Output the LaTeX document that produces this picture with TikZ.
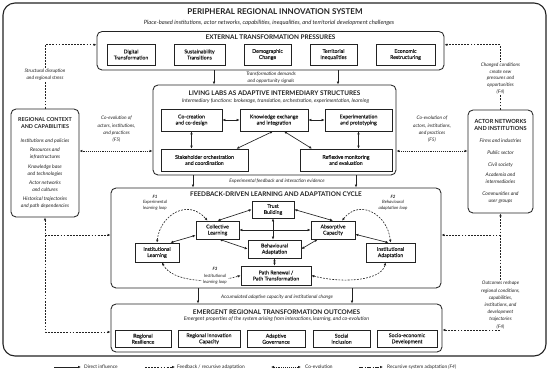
\documentclass[tikz,border=0pt]{standalone}
\usepackage{fontspec}
\setmainfont{Lato}
\usetikzlibrary{arrows.meta,calc}
\definecolor{ink}{HTML}{222222}
\newcommand{\fz}[2]{\fontsize{#1pt}{#2pt}\selectfont}
\newcommand{\semib}{\addfontfeature{FakeBold=0.25}}
\tikzset{
  tip/.tip={Latex[length=3pt,width=2.6pt]},
  frame/.style={draw=ink, line width=1.1pt, rounded corners=12pt},
  panel/.style={draw=ink, line width=0.85pt, rounded corners=5pt},
  sub/.style={draw=ink, line width=0.65pt, align=center, inner sep=0pt, font=\fz{5.2}{6.1}\semib, text=ink},
  ttl/.style={font=\fz{6.4}{7}\bfseries, inner sep=0pt, text=ink},
  stl/.style={font=\fz{5.2}{6}\itshape, inner sep=0pt, text=ink},
  lbl/.style={font=\fz{4.8}{7.3}\itshape, align=center, inner sep=0.8pt, text=ink},
  side/.style={panel, align=center, inner sep=0pt, font=\fz{5}{7}\itshape, text=ink},
  conn/.style={draw=ink, line width=0.65pt, -tip},
  bi/.style={draw=ink, line width=0.65pt, tip-tip},
  fb/.style={draw=ink, line width=0.6pt, dash pattern=on 1.8pt off 1.3pt},
  co/.style={draw=ink, line width=0.6pt, dash pattern=on 0.8pt off 1.1pt},
  rsa/.style={draw=ink, line width=0.6pt, dash pattern=on 4pt off 1.5pt on 1pt off 1.5pt},
}
\begin{document}
\begin{tikzpicture}[x=1pt,y=-1pt]
\useasboundingbox[fill=white] (0,0) rectangle (550,373);
% outer frame
\node[frame, minimum width=543, minimum height=353] (sys) at (274.5,179.5) {};
\node[font=\fz{8}{9}\bfseries, inner sep=0pt, text=ink] (sysT) at (275,12) {PERIPHERAL REGIONAL INNOVATION SYSTEM};
\node[font=\fz{5.8}{7}\itshape, inner sep=0pt, text=ink] (sysS) at (269,22.5) {Place-based institutions, actor networks, capabilities, inequalities, and territorial development challenges};

% external pressures
\node[panel, minimum width=347, minimum height=38.5] (ext) at (270.5,50.75) {};
\node[ttl] (extT) at (270.5,37) {EXTERNAL TRANSFORMATION PRESSURES};
\node[sub, minimum width=48, minimum height=21] (dig) at (131,54.5) {Digital\\Transformation};
\node[sub, minimum width=51, minimum height=21] (sus) at (199.5,54.5) {Sustainability\\Transitions};
\node[sub, minimum width=47, minimum height=21] (dem) at (267.5,54.5) {Demographic\\Change};
\node[sub, minimum width=47, minimum height=21] (ter) at (333.5,54.5) {Territorial\\Inequalities};
\node[sub, minimum width=59, minimum height=21] (eco) at (405.5,54.5) {Economic\\Restructuring};

% living labs
\node[panel, minimum width=243, minimum height=90] (ll) at (274.5,130) {};
\node[ttl] (llT) at (274.5,93) {LIVING LABS AS ADAPTIVE INTERMEDIARY STRUCTURES};
\node[stl] (llS) at (275.5,101) {Intermediary functions: brokerage, translation, orchestration, experimentation, learning};
\node[sub, minimum width=61, minimum height=22] (cc) at (191.5,120) {Co-creation\\and co-design};
\node[sub, minimum width=68, minimum height=22] (ke) at (274,120) {Knowledge exchange\\and integration};
\node[sub, minimum width=67, minimum height=22] (ex) at (358.5,120) {Experimentation\\and prototyping};
\node[sub, minimum width=87, minimum height=22] (sh) at (204.5,160) {Stakeholder orchestration\\and coordination};
\node[sub, minimum width=92, minimum height=22] (rf) at (346,160) {Reflexive monitoring\\and evaluation};
\draw[bi] (cc) -- (ke);
\draw[bi] (ke) -- (ex);
\draw[bi] (cc.south) -- (cc.south |- sh.north);
\draw[bi] (ex.south) -- (ex.south |- rf.north);
\draw[bi] ([xshift=-1pt]ke.south) -- ([xshift=32pt]sh.north);
\draw[bi] ([xshift=10pt]ke.south) -- ([xshift=-34pt]rf.north);

% external -> living labs
\draw[conn] ([xshift=-56.5pt]ext.south) -- ([xshift=-56.5pt]ext.south |- ll.north);
\draw[conn] ([xshift=67.5pt]ext.south) -- ([xshift=67.5pt]ext.south |- ll.north);
\node[lbl] (tdl) at (271,78) {Transformation demands\\and opportunity signals};

% feedback cycle
\node[panel, minimum width=330, minimum height=100] (cyc) at (276,238) {};
\node[ttl] (cycT) at (276,194.5) {FEEDBACK-DRIVEN LEARNING AND ADAPTATION CYCLE};
\draw[conn] ([xshift=-81.5pt]ll.south) -- ([xshift=-81.5pt]ll.south |- cyc.north);
\draw[conn] ([xshift=81.5pt]ll.south) -- ([xshift=81.5pt]ll.south |- cyc.north);
\node[lbl] (efl) at (277,181.5) {Experimental feedback and interaction evidence};

\node[sub, minimum width=42, minimum height=17] (tr) at (273,209.5) {Trust\\Building};
\node[sub, minimum width=43, minimum height=18] (col) at (217.5,230) {Collective\\Learning};
\node[sub, minimum width=44, minimum height=18] (abs) at (333,230) {Absorptive\\Capacity};
\node[sub, minimum width=53, minimum height=18] (beh) at (274.5,249) {Behavioural\\Adaptation};
\node[sub, minimum width=44, minimum height=19] (il) at (157,252.5) {Institutional\\Learning};
\node[sub, minimum width=49, minimum height=19] (ia) at (390.5,252.5) {Institutional\\Adaptation};
\node[sub, minimum width=70, minimum height=19] (pr) at (276,275.5) {Path Renewal /\\Path Transformation};

\draw[bi] (col.north) -- (tr.west);
\draw[bi] (tr.east) -- (abs.north);
\draw[bi] (col.east) -- (abs.west);
\draw[bi] (tr.south) -- (tr.south |- beh.north);
\draw[bi] ([xshift=2pt]col.south) -- (beh.west);
\draw[bi] ([xshift=7pt]abs.south west) -- (beh.east);
\draw[bi] ([xshift=-9pt]il.north east) -- ([yshift=4pt]col.south west);
\draw[bi] ([yshift=5pt]abs.south east) -- ([xshift=-2pt]ia.north);
\draw[bi] (beh.south) -- (beh.south |- pr.north);

% loops
\draw[fb, tip-tip] (il.north) .. controls (160,215) and (188,198) .. ([xshift=-10pt]col.north);
\draw[fb, tip-tip] ([xshift=9pt]abs.north) .. controls (360,198) and (388,215) .. (ia.north);
\draw[fb, tip-tip] ([xshift=5pt]il.south) .. controls (172,282) and (212,284) .. (pr.west);
\draw[fb, tip-tip] (pr.east) .. controls (345,284) and (382,280) .. ([xshift=-5pt]ia.south);
\node[lbl, font=\fz{4.4}{5.6}\itshape] (f1) at (155,202.5) {\textbf{F1}\\Experimental\\learning loop};
\node[lbl, font=\fz{4.4}{5.6}\itshape] (f2) at (393,202.5) {\textbf{F2}\\Behavioural\\adaptation loop};
\node[lbl, font=\fz{4.4}{6.3}\itshape, fill=white] (f3) at (215,276) {\textbf{F3}\\Institutional\\learning loop};

% emergent outcomes
\node[panel, minimum width=331, minimum height=48] (em) at (276.5,328) {};
\node[ttl] (emT) at (276.5,312) {EMERGENT REGIONAL TRANSFORMATION OUTCOMES};
\node[stl] (emS) at (276.5,319.5) {Emergent properties of the system arising from interactions, learning, and co-evolution};
\node[sub, minimum width=56, minimum height=17.5] (o1) at (143,338.75) {Regional\\Resilience};
\node[sub, minimum width=62, minimum height=17.5] (o2) at (209,338.75) {Regional Innovation\\Capacity};
\node[sub, minimum width=58, minimum height=17.5] (o3) at (276,338.75) {Adaptive\\Governance};
\node[sub, minimum width=57, minimum height=17.5] (o4) at (341.5,338.75) {Social\\Inclusion};
\node[sub, minimum width=60, minimum height=17.5] (o5) at (407,338.75) {Socio-economic\\Development};
\draw[conn] ([xshift=-78pt]cyc.south) -- ([xshift=-78pt]cyc.south |- em.north);
\draw[conn] ([xshift=76pt]cyc.south) -- ([xshift=76pt]cyc.south |- em.north);
\node[lbl] (acl) at (277,297) {Accumulated adaptive capacity and institutional change};

% regional context (left)
\node[side, minimum width=68, minimum height=108] (ctx) at (45,163) {{\upshape\bfseries\fz{5.4}{6.5}REGIONAL CONTEXT}\\{\upshape\bfseries\fz{5.4}{6.5}AND CAPABILITIES}\\[7pt]Institutions and policies\\[2pt]Resources and\\infrastructures\\[2.5pt]Knowledge base\\and technologies\\[2pt]Actor networks\\and cultures\\[2pt]Historical trajectories\\and path dependencies};
% actor networks (right)
\node[side, minimum width=65, minimum height=103] (act) at (500.5,161.5) {{\upshape\bfseries\fz{5.6}{7.5}ACTOR NETWORKS}\\{\upshape\bfseries\fz{5.6}{7.5}AND INSTITUTIONS}\\[4.5pt]Firms and industries\\[5.5pt]Public sector\\[5pt]Civil society\\[3pt]Academia and\\intermediaries\\[5pt]Communities and\\user groups};

% left connectors
\draw[fb, -tip] (ctx.north) |- ([yshift=6pt]ext.west);
\node[lbl, fill=white] (sdl) at (45,74.5) {Structural disruption\\and regional stress};
\draw[co, tip-tip] ([yshift=-21pt]ll.west) -- ([yshift=-21pt]ll.west -| ctx.east);
\node[lbl] (cel) at (116.5,129.5) {Co-evolution of\\actors, institutions,\\and practices\\(F5)};
\draw[fb, tip-tip] (ctx.south) |- ([yshift=-4pt]em.west);
\draw[fb, -tip] (ctx.south |- cyc.west) ++(0,-3) -- ([yshift=3pt]cyc.west);

% right connectors
\draw[fb, -tip] (act.north) |- ([yshift=6pt]ext.east);
\node[lbl, font=\fz{4.8}{6.8}\itshape, fill=white] (ccl) at (500.5,78.5) {Changed conditions\\create new\\pressures and\\opportunities\\(F4)};
\draw[co, tip-tip] ([yshift=-21pt]ll.east) -- ([yshift=-21pt]ll.east -| act.west);
\node[lbl] (cer) at (432,129.5) {Co-evolution of\\actors, institutions,\\and practices\\(F5)};
\draw[fb, tip-tip] (act.south) |- ([yshift=-2pt]em.east);
\draw[fb, -tip] (act.south |- cyc.east) ++(0,-3) -- ([yshift=3pt]cyc.east);
\node[lbl, font=\fz{4.8}{7.2}\itshape, fill=white] (orl) at (500.5,305) {Outcomes reshape\\regional conditions,\\capabilities,\\institutions, and\\development\\trajectories\\(F4)};

% legend
\coordinate (g1a) at (54,367); \coordinate (g1b) at (81,367);
\draw[conn] (g1a) -- (g1b);
\node[anchor=west, inner sep=0pt, font=\fz{4.8}{5.5}, text=ink] (g1) at (84,367) {Direct influence};
\coordinate (g2a) at (145,367); \coordinate (g2b) at (175,367);
\draw[fb, -tip] (g2a) -- (g2b);
\node[anchor=west, inner sep=0pt, font=\fz{4.8}{5.5}, text=ink] (g2) at (177,367) {Feedback / recursive adaptation};
\coordinate (g3a) at (271,367); \coordinate (g3b) at (301,367);
\draw[co, tip-tip] (g3a) -- (g3b);
\node[anchor=west, inner sep=0pt, font=\fz{4.8}{5.5}, text=ink] (g3) at (305,367) {Co-evolution};
\coordinate (g4a) at (359,367); \coordinate (g4b) at (383,367);
\draw[rsa, -tip] (g4a) -- (g4b);
\node[anchor=west, inner sep=0pt, font=\fz{4.8}{5.5}, text=ink] (g4) at (387,367) {Recursive system adaptation \textit{(F4)}};
\end{tikzpicture}
\end{document}
